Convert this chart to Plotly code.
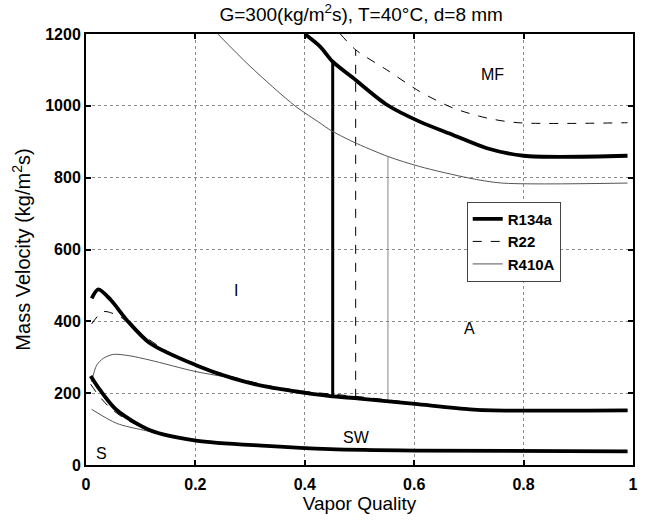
import plotly.graph_objects as go

# ---------------- data ----------------
# Mist-flow (MF) boundary
x_mf_r134a = [0.40, 0.428, 0.451, 0.488, 0.55, 0.61, 0.671, 0.733, 0.80, 0.99]
g_mf_r134a = [1200, 1165, 1123, 1078, 1003, 956, 919, 882, 861, 861]
x_mf_r22 = [0.465, 0.493, 0.55, 0.61, 0.671, 0.733, 0.79, 0.99]
g_mf_r22 = [1200, 1156, 1100, 1040, 994, 966, 953, 953]
x_mf_r410a = [0.241, 0.30, 0.382, 0.428, 0.446, 0.488, 0.552, 0.61, 0.70, 0.76, 0.99]
g_mf_r410a = [1200, 1110, 1000, 952, 933, 900, 859, 831, 799, 785, 785]

# Intermittent / annular boundary
x_ia_r134a = [0.0104, 0.0225, 0.045, 0.0744, 0.117, 0.201, 0.269, 0.33, 0.40, 0.446, 0.50, 0.601, 0.702, 0.744, 0.99]
g_ia_r134a = [464, 489, 460, 404, 339, 278, 241, 218, 201, 192, 185, 170, 155, 152, 152]
x_ia_r22 = [0.0104, 0.0317, 0.062, 0.099, 0.15, 0.201, 0.269, 0.33, 0.40, 0.50, 0.60, 0.70, 0.80, 0.99]
g_ia_r22 = [393, 427, 413, 367, 315, 280, 245, 222, 205, 190, 173, 157, 153, 153]
x_ia_r410a = [0.0104, 0.0195, 0.0317, 0.05, 0.08, 0.117, 0.201, 0.269, 0.33, 0.40, 0.50, 0.60, 0.70, 0.80, 0.99]
g_ia_r410a = [232, 278, 297, 308, 304, 292, 260, 241, 217, 199, 183, 168, 154, 151, 151]

# Stratified / stratified-wavy boundary
x_s_r134a = [0.0085, 0.0256, 0.056, 0.117, 0.201, 0.33, 0.446, 0.601, 0.99]
g_s_r134a = [248, 209, 153, 97, 68, 53, 44, 40, 38]
x_s_r22 = [0.0085, 0.02, 0.04, 0.07, 0.117, 0.201, 0.33, 0.446, 0.601, 0.99]
g_s_r22 = [225, 200, 165, 130, 96, 68, 53, 44, 40, 38]
x_s_r410a = [0.0104, 0.056, 0.105, 0.15, 0.201, 0.33, 0.446, 0.601, 0.99]
g_s_r410a = [155, 116, 97, 83, 69, 53, 44, 40, 38]

# Intermittent-to-annular transition quality (vertical lines)
x_ia_trans = {"R134a": 0.451, "R22": 0.493, "R410A": 0.552}
g_ia_trans_low = {"R134a": 192, "R22": 187, "R410A": 179}
g_ia_trans_high = {"R134a": 1123, "R22": 1156, "R410A": 859}

# Regime labels
region_labels = ["MF", "I", "A", "SW", "S"]
region_x = [0.744, 0.275, 0.702, 0.495, 0.029]
region_g = [1086, 487, 379, 77, 33]

x_ticks = [0, 0.2, 0.4, 0.6, 0.8, 1]
x_tick_text = ["0", "0.2", "0.4", "0.6", "0.8", "1"]
y_ticks = [0, 200, 400, 600, 800, 1000, 1200]

FONT = "Arial, Liberation Sans, Helvetica, sans-serif"

# ---------------- styles ----------------
styles = {
    "R134a": dict(color="black", width=3.8, dash="solid"),
    "R22": dict(color="black", width=1, dash="dash"),
    "R410A": dict(color="#555555", width=1, dash="solid"),
}
vstyles = {
    "R134a": dict(color="black", width=3, dash="solid"),
    "R22": dict(color="black", width=1, dash="dash"),
    "R410A": dict(color="#8a8a8a", width=1, dash="solid"),
}

curves = {
    "R134a": [(x_mf_r134a, g_mf_r134a), (x_ia_r134a, g_ia_r134a), (x_s_r134a, g_s_r134a)],
    "R22": [(x_mf_r22, g_mf_r22), (x_ia_r22, g_ia_r22), (x_s_r22, g_s_r22)],
    "R410A": [(x_mf_r410a, g_mf_r410a), (x_ia_r410a, g_ia_r410a), (x_s_r410a, g_s_r410a)],
}

fig = go.Figure()
order = ["R410A", "R22", "R134a"]
for name in order:
    fig.add_trace(go.Scatter(
        x=[x_ia_trans[name], x_ia_trans[name]],
        y=[g_ia_trans_low[name], g_ia_trans_high[name]],
        mode="lines", line=vstyles[name], showlegend=False, hoverinfo="skip"))
for name in order:
    for i, (xs, gs) in enumerate(curves[name]):
        fig.add_trace(go.Scatter(
            x=xs, y=gs, mode="lines",
            line=dict(shape="spline", smoothing=0.8, **styles[name]),
            name=name, legendgroup=name, showlegend=False))
# legend entries in order
for name in ["R134a", "R22", "R410A"]:
    fig.add_trace(go.Scatter(x=[None], y=[None], mode="lines", line=styles[name],
                             name=name, showlegend=True))

for lab, lx, lg in zip(region_labels, region_x, region_g):
    fig.add_annotation(x=lx, y=lg, text=lab, showarrow=False,
                       font=dict(size=16, color="black", family=FONT))

axis_common = dict(
    showline=True, linecolor="black", linewidth=2, mirror="ticks",
    ticks="inside", ticklen=5, tickwidth=2, tickcolor="black",
    showgrid=True, gridcolor="#8c8c8c", griddash="dot", gridwidth=1,
    zeroline=False,
    tickfont=dict(size=16, color="black", family=FONT, weight="bold"),
)

fig.update_xaxes(range=[0, 1], tickvals=x_ticks, ticktext=x_tick_text,
                 ticklabelstandoff=4,
                 title=dict(text="Vapor Quality", standoff=4,
                            font=dict(size=19, color="black", family=FONT)),
                 **axis_common)
fig.update_yaxes(range=[0, 1200], tickvals=y_ticks,
                 title=dict(text="Mass Velocity (kg/m<sup>2</sup>s)", standoff=9,
                            font=dict(size=20, color="black", family=FONT)),
                 **axis_common)

fig.update_layout(
    width=645, height=520,
    margin=dict(l=86, r=12, t=34, b=55, autoexpand=False),
    paper_bgcolor="white", plot_bgcolor="white",
    title=dict(text="G=300(kg/m<sup>2</sup>s), T=40°C, d=8 mm", x=0.56, xanchor="center",
               y=0.972, yanchor="middle",
               font=dict(size=19, color="black", family=FONT)),
    legend=dict(x=0.696, y=0.611, xanchor="left", yanchor="top",
                bgcolor="white", bordercolor="#444444", borderwidth=1,
                font=dict(size=15, color="black", family=FONT, weight="bold"),
                tracegroupgap=0, itemwidth=30, entrywidth=100),
    showlegend=True,
)

fig.write_html("out.html")
